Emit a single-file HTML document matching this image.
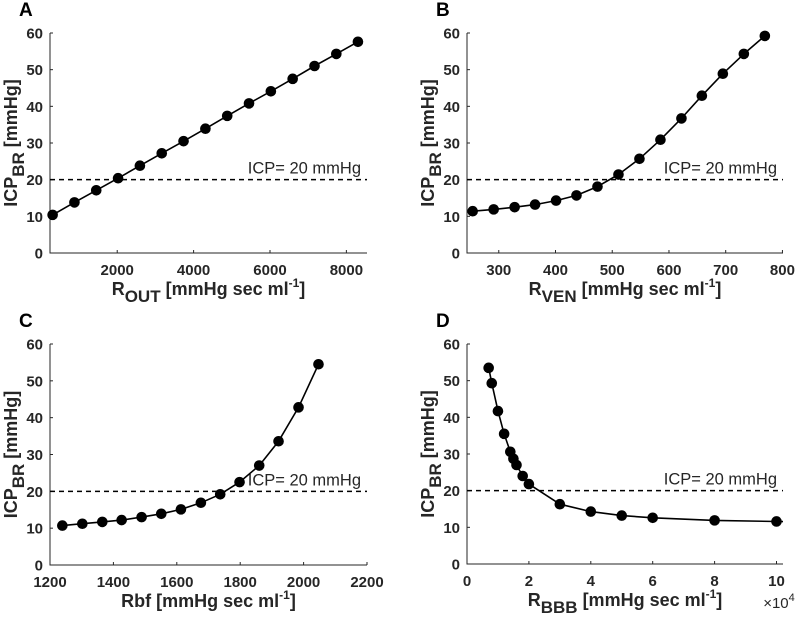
<!DOCTYPE html>
<html><head><meta charset="utf-8"><style>
html,body{margin:0;padding:0;background:#fff}
svg{display:block;font-family:"Liberation Sans",Arial,sans-serif}
</style></head><body>
<svg id="chart" width="796" height="621" viewBox="0 0 796 621"></svg>
<script>
const aX=[309,880,1451,2023,2594,3166,3737,4309,4880,5451,6023,6594,7166,7737,8303];
const aY=[10.4,13.8,17.1,20.4,23.8,27.2,30.5,33.9,37.4,40.8,44.1,47.5,51.0,54.3,57.6];
const bX=[254,291,328,364,401,437,474,511,548,585,622,658,695,732,769];
const bY=[11.4,11.9,12.5,13.2,14.3,15.7,18.1,21.4,25.7,30.9,36.7,42.9,48.9,54.3,59.2];
const cX=[1239,1302,1365,1426,1489,1551,1613,1676,1737,1798,1860,1921,1984,2047];
const cY=[10.7,11.2,11.7,12.2,13.0,13.9,15.1,16.9,19.2,22.5,27.0,33.6,42.8,54.5];
const dX=[0.7,0.8,1.0,1.2,1.4,1.5,1.6,1.8,2.0,3,4,5,6,8,10];
const dY=[53.5,49.3,41.7,35.5,30.6,28.7,27.0,24.0,21.8,16.3,14.3,13.2,12.6,11.9,11.6];
const yTicks=[0,10,20,30,40,50,60];
const aTicks=[2000,4000,6000,8000];
const bTicks=[300,400,500,600,700,800];
const cTicks=[1200,1400,1600,1800,2000,2200];
const dTicks=[0,2,4,6,8,10];
const threshold=20;

const NS="http://www.w3.org/2000/svg";
const svg=document.getElementById('chart');
function el(tag,attrs,parent,text){const e=document.createElementNS(NS,tag);for(const k in attrs)e.setAttribute(k,attrs[k]);if(text!==undefined)e.textContent=text;(parent||svg).appendChild(e);return e;}

function panel(o){
  const g=el('g',{});
  
  
  const sx=v=>o.x0+(v-o.dmin)/(o.dmax-o.dmin)*(o.x1-o.x0);
  const sy=v=>o.y1-(v-0)/60*(o.y1-o.y0);
  const L=el('text',{x:o.x0-31,y:o.y0-17,'font-size':19,'font-weight':'bold',fill:'#000'},g,o.letter);
  
  
  const ax=el('path',{d:`M${o.x0},${o.y0}V${o.y1}H${o.x1}`,stroke:'#262626','stroke-width':1,fill:'none'},g);
  
  
  yTicks.forEach(t=>{const y=sy(t);
    el('line',{x1:o.x0,x2:o.x0+3,y1:y,y2:y,stroke:'#262626'},g);
    const tt=el('text',{x:o.x0-7,y:y+5.5,'text-anchor':'end','font-size':15,'font-weight':'bold',fill:'#262626'},g,t);
    
    
  });
  o.ticks.forEach(t=>{const x=sx(t);
    el('line',{x1:x,x2:x,y1:o.y1,y2:o.y1-3,stroke:'#262626'},g);
    const tt=el('text',{x:x,y:o.y1+22,'text-anchor':'middle','font-size':15,'font-weight':'bold',fill:'#262626'},g,t);
    
    
  });
  const th=el('line',{x1:o.x0,x2:o.x1,y1:sy(threshold),y2:sy(threshold),stroke:'#000','stroke-width':1.5,'stroke-dasharray':'5,4'},g);
  
  
  const tl=el('text',{x:o.x1-6,y:sy(threshold)-6,'text-anchor':'end','font-size':16.5,fill:'#262626'},g,'ICP= 20 mmHg');
  
  
  let pts=o.xs.map((v,i)=>[sx(v),sy(o.ys[i])]);
  let d='M'+pts.map(p=>p[0].toFixed(1)+','+p[1].toFixed(1)).join('L');
  if(o.extend){d+='L'+o.x1+','+sy(o.ys[o.ys.length-1]-0.05).toFixed(1);}
  const ln=el('path',{d:d,stroke:'#000','stroke-width':1.6,fill:'none','stroke-linejoin':'round'},g);
  
  
  pts.forEach(p=>{const c=el('circle',{cx:p[0],cy:p[1],r:5.3,fill:'#000'},g);
    
    });
  const cy=(o.y0+o.y1)/2;
  const yl=el('text',{transform:`translate(${o.x0-33},${cy}) rotate(-90)`,'text-anchor':'middle','font-size':18,'font-weight':'bold',fill:'#262626'},g);
  
  
  el('tspan',{},yl,'ICP');
  el('tspan',{dy:7,'font-size':17},yl,'BR');
  el('tspan',{dy:-7},yl,' [mmHg]');
  const xl=el('text',{x:(o.x0+o.x1)/2,y:o.y1+42,'text-anchor':'middle','font-size':18,'font-weight':'bold',fill:'#262626'},g);
  
  
  if(o.sub){el('tspan',{},xl,'R');el('tspan',{dy:7,'font-size':17},xl,o.sub);el('tspan',{dy:-7},xl,' [mmHg sec ml');}
  else el('tspan',{},xl,'Rbf [mmHg sec ml');
  el('tspan',{dy:-8,'font-size':12},xl,'-1');
  el('tspan',{dy:8},xl,']');
  if(o.exp){const ex=el('text',{x:o.x1-4,y:o.y1+44,'text-anchor':'middle','font-size':15,fill:'#262626'},g);
    
    
    el('tspan',{},ex,'×10');el('tspan',{dy:-7,'font-size':11},ex,'4');}
}
panel({letter:'A',x0:50,x1:367,y0:33,y1:253,dmin:240,dmax:8540,xs:aX,ys:aY,ticks:aTicks,sub:'OUT'});
panel({letter:'B',x0:467,x1:783,y0:33,y1:253,dmin:244,dmax:801,xs:bX,ys:bY,ticks:bTicks,sub:'VEN'});
panel({letter:'C',x0:50,x1:367,y0:344,y1:565,dmin:1200,dmax:2200,xs:cX,ys:cY,ticks:cTicks});
panel({letter:'D',x0:467,x1:783,y0:344,y1:564,dmin:0,dmax:10.21,xs:dX,ys:dY,ticks:dTicks,sub:'BBB',exp:true,extend:true});
</script>
</body></html>
